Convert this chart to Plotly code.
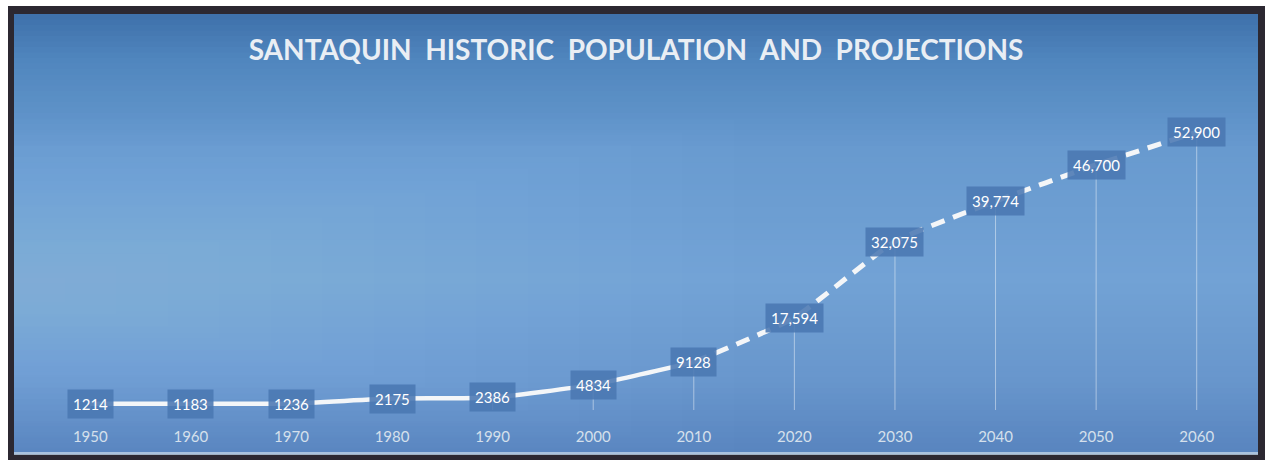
import plotly.graph_objects as go

# ---- data ----
historic_years = ["1950", "1960", "1970", "1980", "1990", "2000", "2010"]
historic_pop = [1214, 1183, 1236, 2175, 2386, 4834, 9128]
projection_years = ["2020", "2030", "2040", "2050", "2060"]
projection_pop = [17594, 32075, 39774, 46700, 52900]
title_text = "SANTAQUIN  HISTORIC  POPULATION  AND  PROJECTIONS"

W, H = 1272, 464
all_years = historic_years + projection_years
all_pop = historic_pop + projection_pop
labels = [str(v) for v in historic_pop] + [f"{v:,}" for v in projection_pop]


def px(x):
    return x / W


def py(y):
    return 1 - y / H


fig = go.Figure()

# drop lines (via error bars)
fig.add_trace(go.Scatter(
    x=all_years, y=all_pop, mode="markers",
    marker=dict(size=1, color="rgba(0,0,0,0)"),
    error_y=dict(type="data", symmetric=False, array=[0] * len(all_pop),
                 arrayminus=all_pop, color="rgba(255,255,255,0.45)",
                 thickness=1, width=0),
    hoverinfo="skip", showlegend=False,
))

# historic solid line
fig.add_trace(go.Scatter(
    x=historic_years, y=historic_pop, mode="lines",
    line=dict(color="#f4f6f8", width=4.5, shape="spline", smoothing=0.5),
    showlegend=False,
))
# projection dashed line (connected from last historic point)
fig.add_trace(go.Scatter(
    x=[historic_years[-1]] + projection_years,
    y=[historic_pop[-1]] + projection_pop, mode="lines",
    line=dict(color="#f4f6f8", width=5, dash="14px,9px", shape="spline", smoothing=0.5),
    showlegend=False,
))

# value labels (category index positions)
for i, (v, lab) in enumerate(zip(all_pop, labels)):
    fig.add_annotation(
        x=i, y=v, xref="x", yref="y", text=lab, showarrow=False,
        font=dict(family="Lato", size=15, color="#ffffff"),
        bgcolor="rgba(74,120,178,0.88)", borderpad=5,
        xanchor="center", yanchor="middle",
    )

shapes = []
# outer dark frame
shapes.append(dict(type="rect", xref="paper", yref="paper",
                   x0=px(8), x1=px(1265), y0=py(460), y1=py(6),
                   fillcolor="#2c2831", line=dict(width=0), layer="below"))
# vertical gradient background (stacked so no seams)
stops = [(14, (62, 112, 170)), (60, (80, 134, 190)), (150, (104, 154, 207)),
         (280, (114, 162, 213)), (380, (104, 150, 204)), (454, (88, 132, 190))]
top, bot = 14, 454
n = 80
for i in range(n):
    y0 = top + (bot - top) * i / n
    ym = y0 + (bot - top) / n / 2
    for (a, ca), (b, cb) in zip(stops[:-1], stops[1:]):
        if a <= ym <= b:
            t = (ym - a) / (b - a)
            c = tuple(round(ca[k] + (cb[k] - ca[k]) * t) for k in range(3))
            break
    shapes.append(dict(type="rect", xref="paper", yref="paper",
                       x0=px(14), x1=px(1258), y0=py(bot), y1=py(y0),
                       fillcolor=f"rgb{c}", line=dict(width=0), layer="below"))
# left-side glow (stacked concentric rectangles)
m = 14
for i in range(m):
    f = 1 - i / m
    x1 = 14 + 720 * f
    yc = 290
    hh = 170 * f
    shapes.append(dict(type="rect", xref="paper", yref="paper",
                       x0=px(14), x1=px(x1), y0=py(min(454, yc + hh)), y1=py(yc - hh),
                       fillcolor="#bcd8f4", opacity=0.025,
                       line=dict(width=0), layer="below"))
# light bottom line
shapes.append(dict(type="rect", xref="paper", yref="paper",
                   x0=px(14), x1=px(1258), y0=py(455), y1=py(452),
                   fillcolor="rgba(190,210,230,0.8)", line=dict(width=0),
                   layer="below"))

fig.update_layout(
    width=W, height=H,
    margin=dict(l=0, r=0, t=0, b=0),
    paper_bgcolor="#ffffff",
    plot_bgcolor="rgba(0,0,0,0)",
    shapes=shapes,
    showlegend=False,
    title=dict(text=title_text.replace(" ", "\u00a0"), x=0.5, xanchor="center",
               y=py(50), yanchor="middle",
               font=dict(family="Lato", size=28, color="#e9eef4", weight="bold")),
    xaxis=dict(type="category", domain=[px(40), px(1247)],
               range=[-0.5, len(all_years) - 0.5],
               showgrid=False, zeroline=False, showline=False, ticks="",
               tickfont=dict(family="Lato", size=15, color="#d5e0ec"),
               ticklabelstandoff=16),
    yaxis=dict(domain=[py(410), py(95)], range=[0, 60000],
               visible=False, showgrid=False, zeroline=False),
)

fig.write_html("out.html")
